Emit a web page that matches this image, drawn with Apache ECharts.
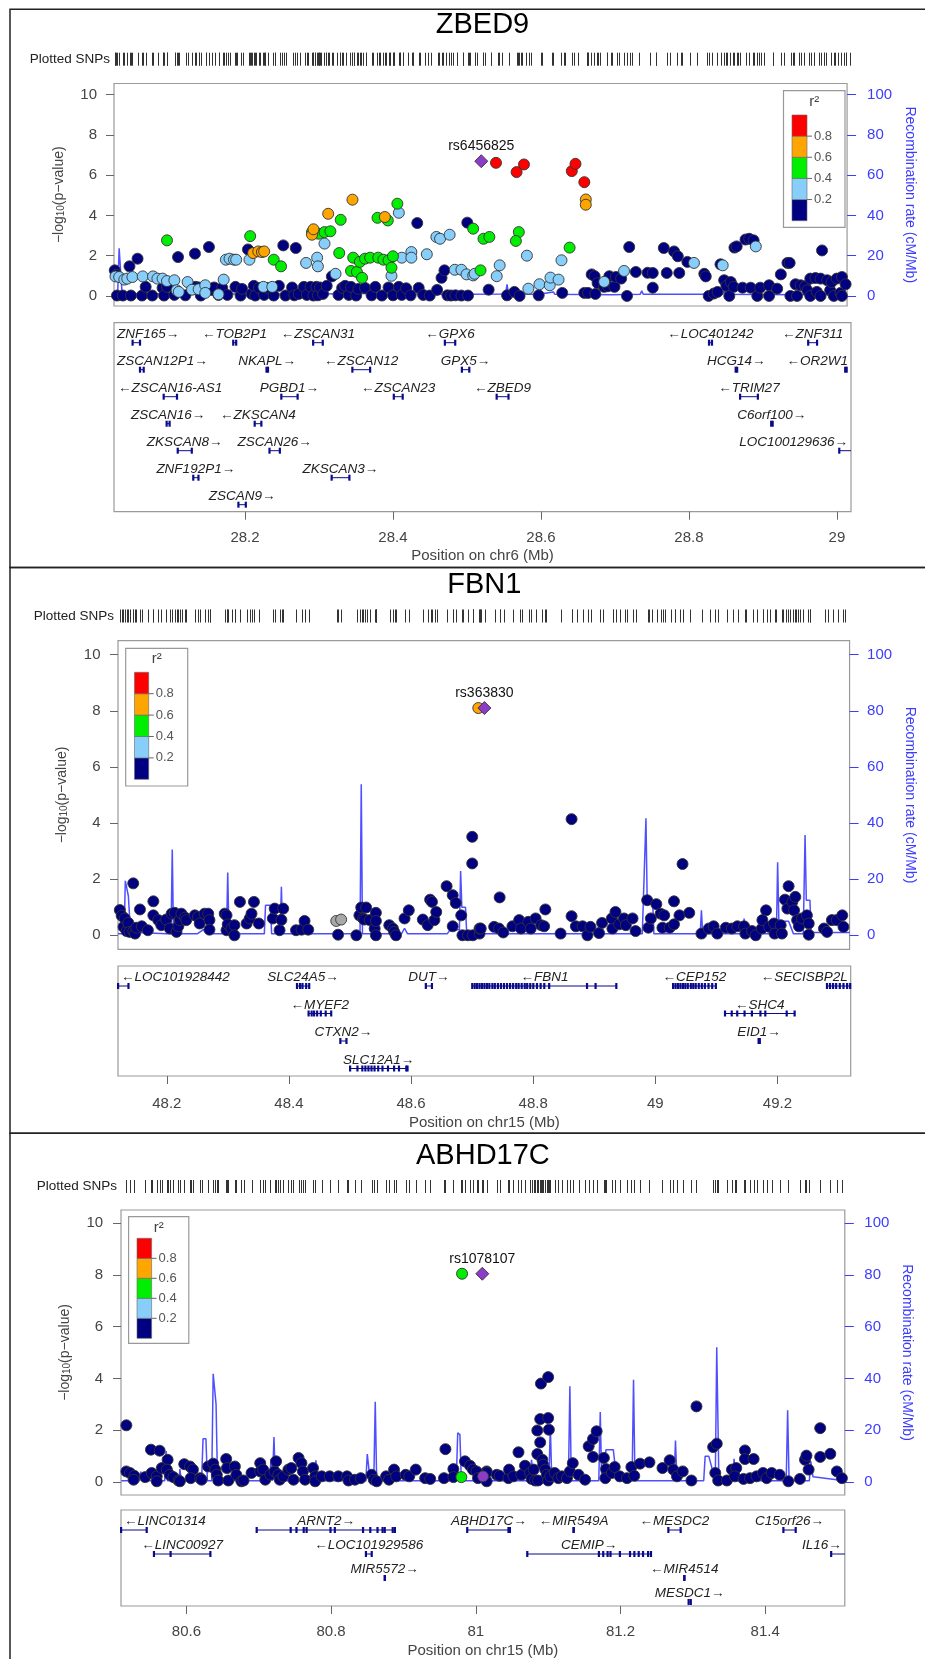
<!DOCTYPE html>
<html><head><meta charset="utf-8">
<script src="https://cdn.jsdelivr.net/npm/echarts@6/dist/echarts.min.js"></script>
<style>html,body{margin:0;padding:0;background:#fff}#c{width:925px;height:1659px}</style>
</head><body><div id="c"></div>
<script>
// ================= DATA =================
const yTicks = [0, 2, 4, 6, 8, 10];
const recombTicks = [0, 20, 40, 60, 80, 100];
const ldBreaks = ['0.2', '0.4', '0.6', '0.8'];
const panelTitles = ['ZBED9', 'FBN1', 'ABHD17C'];
const chromLabels = ['Position on chr6 (Mb)', 'Position on chr15 (Mb)', 'Position on chr15 (Mb)'];
const leadSnps = ['rs6456825', 'rs363830', 'rs1078107'];
const xRanges = [[28.023, 29.019], [48.12, 49.32], [80.5096, 81.51]];
const zbed9Ticks = [28.2, 28.4, 28.6, 28.8, 29];
const fbn1Ticks = [48.2, 48.4, 48.6, 48.8, 49, 49.2];
const abhdTicks = [80.6, 80.8, 81, 81.2, 81.4];

// SNPs: [position Mb, -log10 p, LD class] ; class 0..4 = r2 bins (low..high), 5 = lead SNP, 6 = no LD, 7 = lead proxy
const zbed9Snps = [
[28.024,1.27,0],[28.026,1.05,0],[28.027,0.02,0],[28.035,0.02,0],[28.044,1.47,0],[28.046,0.02,0],[28.055,1.85,0],[28.061,0.02,0],[28.066,0.45,0],[28.075,0.02,0],[28.089,0.4,0],[28.091,0.02,0],[28.095,0.45,0],[28.105,0.05,0],[28.110,1.93,0],[28.120,0.03,0],[28.133,2.1,0],[28.134,0.45,0],[28.138,0.42,0],[28.141,0.02,0],[28.152,2.43,0],[28.156,0.3,0],[28.159,0.42,0],[28.165,0.05,0],[28.170,0.4,0],[28.177,0.05,0],[28.188,0.45,0],[28.195,0.02,0],[28.197,0.35,0],[28.205,2.31,0],[28.210,0.1,0],[28.213,0.5,0],[28.215,0.02,0],[28.220,0.4,0],[28.227,0.05,0],[28.231,0.4,0],[28.240,0.02,0],[28.247,0.5,0],[28.253,2.51,0],[28.256,0.02,0],[28.265,0.42,0],[28.268,0.03,0],[28.270,2.38,0],[28.274,0.1,0],[28.281,0.45,0],[28.285,0.05,0],[28.290,0.45,0],[28.294,0.02,0],[28.298,0.45,0],[28.300,0.03,0],[28.303,0.42,0],[28.307,0.1,0],[28.312,0.5,0],[28.319,0.97,0],[28.328,0.05,0],[28.333,0.4,0],[28.337,0.5,0],[28.342,0.05,0],[28.345,0.45,0],[28.352,0.02,0],[28.355,0.35,0],[28.364,0.4,0],[28.373,0.03,0],[28.378,0.45,0],[28.387,0.02,0],[28.396,0.42,0],[28.402,0.03,0],[28.410,0.45,0],[28.414,0.05,0],[28.420,0.38,0],[28.426,0.03,0],[28.435,3.62,0],[28.437,0.4,0],[28.443,0.05,0],[28.452,0.02,0],[28.462,0.3,0],[28.468,0.9,0],[28.472,1.27,0],[28.476,0.03,0],[28.481,0.02,0],[28.487,0.03,0],[28.495,0.02,0],[28.503,3.64,0],[28.504,0.02,0],
[28.532,0.31,0],[28.557,0.03,0],[28.567,0.2,0],[28.574,0.0,0],[28.600,0.03,0],[28.632,0.15,0],[28.662,0.15,0],[28.667,0.15,0],[28.672,1.07,0],[28.676,0.98,0],[28.677,0.1,0],[28.680,0.64,0],[28.689,0.45,0],[28.694,0.48,0],[28.696,0.98,0],[28.703,0.45,0],[28.705,0.94,0],[28.712,0.86,0],[28.720,0.0,0],[28.723,2.43,0],[28.732,1.19,0],[28.748,1.15,0],[28.755,1.14,0],[28.755,0.41,0],[28.770,2.38,0],[28.774,1.14,0],[28.784,2.21,0],[28.789,1.97,0],[28.791,1.14,0],[28.802,1.69,0],[28.825,1.1,0],[28.827,0.97,0],[28.831,0.0,0],[28.838,0.12,0],[28.843,0.2,0],[28.847,1.57,0],[28.852,0.78,0],[28.855,0.5,0],[28.859,0.0,0],[28.861,0.69,0],[28.865,0.45,0],[28.866,2.4,0],[28.869,2.46,0],[28.877,0.41,0],[28.881,2.8,0],[28.886,2.84,0],[28.888,0.41,0],[28.892,2.76,0],[28.897,0.0,0],[28.901,0.41,0],[28.913,0.53,0],[28.913,0.0,0],[28.924,0.36,0],[28.929,1.07,0],[28.938,1.64,0],[28.941,1.64,0],[28.942,0.0,0],[28.949,0.58,0],[28.951,0.0,0],[28.956,0.53,0],[28.962,0.48,0],[28.965,0.28,0],[28.969,0.86,0],[28.969,0.0,0],[28.976,0.89,0],[28.978,0.2,0],[28.983,0.86,0],[28.983,0.0,0],[28.985,2.26,0],[28.992,0.78,0],[28.996,0.28,0],[28.998,0.69,0],[29.001,0.0,0],[29.005,0.86,0],[29.010,0.15,0],[29.012,0.94,0],[29.012,0.0,0],[29.017,0.58,0],
[28.025,0.97,1],[28.030,0.94,1],[28.037,0.81,1],[28.041,0.86,1],[28.048,0.94,1],[28.062,0.97,1],[28.076,0.97,1],[28.082,0.86,1],[28.089,0.86,1],[28.095,0.74,1],[28.105,0.78,1],[28.108,0.28,1],[28.111,0.2,1],[28.123,0.69,1],[28.129,0.31,1],[28.138,0.33,1],[28.147,0.53,1],[28.147,0.15,1],[28.165,0.08,1],[28.172,0.81,1],[28.175,1.8,1],[28.180,1.85,1],[28.186,1.8,1],[28.189,1.8,1],[28.207,1.8,1],[28.226,0.45,1],[28.238,0.45,1],[28.284,1.64,1],[28.299,1.9,1],[28.300,1.47,1],[28.309,2.6,1],[28.324,1.1,1],[28.400,1.0,1],[28.410,4.13,1],[28.414,1.9,1],[28.427,2.18,1],[28.427,1.9,1],[28.448,2.07,1],[28.461,2.93,1],[28.466,2.84,1],[28.479,3.04,1],[28.486,1.3,1],[28.495,1.3,1],[28.502,1.07,1],[28.511,1.02,1],[28.513,1.1,1],[28.547,1.52,1],[28.543,0.98,1],[28.584,2.0,1],[28.586,0.36,1],[28.601,0.58,1],[28.615,0.53,1],[28.616,0.91,1],[28.627,0.81,1],[28.631,1.77,1],[28.689,0.7,1],[28.716,1.24,1],[28.811,1.64,1],[28.850,1.52,1],[28.895,2.46,1],
[28.095,2.76,2],[28.208,2.97,2],[28.240,1.8,2],[28.250,1.47,2],[28.292,3.17,2],[28.301,3.09,2],[28.309,3.17,2],[28.317,3.21,2],[28.331,3.78,2],[28.329,2.13,2],[28.348,1.9,2],[28.345,1.24,2],[28.353,1.19,2],[28.360,0.9,2],[28.357,1.69,2],[28.364,1.85,2],[28.371,1.9,2],[28.382,1.9,2],[28.389,1.8,2],[28.396,1.77,2],[28.402,1.97,2],[28.381,3.88,2],[28.395,3.75,2],[28.408,4.58,2],[28.400,1.4,2],[28.511,3.34,2],[28.525,2.84,2],[28.533,2.93,2],[28.573,3.17,2],[28.569,2.73,2],[28.642,2.4,2],[28.521,1.27,2],
[28.212,2.13,3],[28.219,2.21,3],[28.224,2.18,3],[28.227,2.21,3],[28.292,3.04,3],[28.294,3.31,3],[28.314,4.08,3],[28.347,4.78,3],[28.391,3.92,3],[28.664,4.79,3],[28.664,4.53,3],
[28.542,6.61,4],[28.570,6.15,4],[28.580,6.53,4],[28.645,6.2,4],[28.650,6.56,4],[28.662,5.65,4],
[28.522,6.69,5]
];

const fbn1Snps = [
[48.123,0.9,0],[48.126,0.7,0],[48.129,0.3,0],[48.131,0.6,0],[48.134,0.15,0],[48.137,0.44,0],[48.139,0.12,0],[48.145,1.85,0],[48.145,0.15,0],[48.148,0.06,0],[48.150,0.27,0],[48.156,0.92,0],[48.159,0.32,0],[48.169,0.18,0],[48.178,1.21,0],[48.178,0.71,0],[48.186,0.54,0],[48.191,0.36,0],[48.199,0.56,0],[48.205,0.24,0],[48.208,0.77,0],[48.213,0.8,0],[48.216,0.12,0],[48.219,0.32,0],[48.221,0.54,0],[48.224,0.77,0],[48.230,0.63,0],[48.232,0.54,0],[48.246,0.71,0],[48.251,0.65,0],[48.254,0.42,0],[48.262,0.77,0],[48.268,0.77,0],[48.270,0.54,0],[48.270,0.2,0],[48.295,0.77,0],[48.298,0.71,0],[48.298,0.18,0],[48.300,0.39,0],[48.306,0.24,0],[48.311,0.36,0],[48.311,0.0,0],[48.320,1.19,0],[48.331,0.42,0],[48.336,0.6,0],[48.339,0.77,0],[48.343,1.19,0],[48.351,0.42,0],[48.374,0.6,0],[48.377,0.95,0],[48.385,0.18,0],[48.388,0.55,0],[48.391,0.95,0],[48.412,0.18,0],[48.421,0.2,0],[48.426,0.51,0],[48.432,0.2,0],[48.478,0.51,6],[48.486,0.56,6],[48.481,0.02,0],[48.511,0.0,0],[48.516,0.71,0],[48.519,0.99,0],[48.522,0.6,0],[48.524,0.56,0],[48.527,0.99,0],[48.533,0.54,0],[48.541,0.24,0],[48.543,0.8,0],[48.543,0.51,0],[48.543,0.0,0],[48.565,0.36,0],[48.571,0.24,0],[48.573,0.12,0],[48.576,0.0,0],[48.590,0.6,0],[48.597,0.89,0],[48.620,0.56,0],[48.628,0.36,0],[48.632,1.27,0],[48.635,1.19,0],[48.639,0.54,0],[48.642,0.83,0],[48.659,1.75,0],[48.669,1.43,0],[48.669,0.32,0],[48.674,1.15,0],[48.683,0.71,0],[48.685,0.0,0],[48.694,0.0,0],[48.701,3.51,0],[48.701,2.56,0],[48.702,0.0,0],[48.713,0.06,0],[48.713,0.24,0],
[48.715,0.24,0],[48.737,0.3,0],[48.745,0.24,0],[48.746,1.35,0],[48.752,0.1,0],[48.767,0.32,0],[48.778,0.54,0],[48.781,0.24,0],[48.793,0.48,0],[48.797,0.24,0],[48.805,0.6,0],[48.814,0.36,0],[48.819,0.32,0],[48.821,0.92,0],[48.846,0.06,0],[48.864,4.14,0],[48.864,0.68,0],[48.871,0.32,0],[48.882,0.32,0],[48.890,0.0,0],[48.895,0.3,0],[48.909,0.08,0],[48.914,0.44,0],[48.931,0.24,0],[48.930,0.6,0],[48.936,0.83,0],[48.942,0.39,0],[48.950,0.6,0],[48.953,0.36,0],[48.964,0.6,0],[48.969,0.15,0],[48.988,1.25,0],[48.990,0.27,0],[48.994,0.6,0],[49.003,1.11,0],[49.010,0.77,0],[49.013,0.27,0],[49.016,0.71,0],[49.025,0.27,0],[49.032,1.21,0],[49.032,0.39,0],[49.041,0.71,0],[49.046,2.54,0],[49.057,0.8,0],[49.077,0.06,0],[49.089,0.24,0],[49.097,0.32,0],[49.103,0.06,0],[49.117,0.27,0],[49.127,0.24,0],[49.136,0.32,0],[49.147,0.32,0],[49.149,0.06,0],[49.160,0.15,0],[49.166,0.0,0],[49.176,0.24,0],[49.177,0.54,0],[49.183,0.89,0],[49.188,0.3,0],[49.196,0.42,0],[49.197,0.06,0],[49.207,0.36,0],[49.209,0.06,0],[49.214,1.27,0],[49.218,0.95,0],[49.220,1.75,0],[49.226,1.19,0],[49.229,0.89,0],[49.231,1.37,0],[49.234,0.54,0],[49.237,0.32,0],[49.242,0.6,0],[49.250,0.71,0],[49.253,0.42,0],[49.253,0.02,0],[49.278,0.24,0],[49.283,0.12,0],[49.291,0.54,0],[49.299,0.54,0],[49.308,0.71,0],[49.310,0.3,0],
[48.711,8.1,3],[48.721,8.1,5]
];

const abhdSnps = [
[80.517,2.19,0],[80.517,0.41,0],[80.522,0.35,0],[80.528,0.24,0],[80.527,0.09,0],[80.551,1.25,0],[80.563,1.21,0],[80.574,0.86,0],[80.543,0.19,0],[80.552,0.35,0],[80.559,0.22,0],[80.559,0.03,0],[80.566,0.54,0],[80.573,0.48,0],[80.577,0.28,0],[80.582,0.19,0],[80.589,0.06,0],[80.591,0.03,0],[80.597,0.69,0],[80.605,0.6,0],[80.609,0.48,0],[80.606,0.15,0],[80.619,0.15,0],[80.621,0.09,0],[80.630,0.6,0],[80.637,0.71,0],[80.640,0.48,0],[80.642,0.28,0],[80.644,0.06,0],[80.655,0.89,0],[80.656,0.54,0],[80.658,0.06,0],[80.667,0.6,0],[80.669,0.28,0],[80.676,0.03,0],[80.679,0.06,0],[80.690,0.35,0],[80.702,0.73,0],[80.702,0.41,0],[80.706,0.48,0],[80.709,0.09,0],[80.716,0.28,0],[80.722,0.41,0],[80.724,0.8,0],[80.727,0.28,0],[80.729,0.09,0],[80.734,0.22,0],[80.741,0.48,0],[80.745,0.54,0],[80.748,0.09,0],[80.755,0.93,0],[80.759,0.73,0],[80.761,0.41,0],[80.764,0.09,0],[80.775,0.54,0],[80.778,0.22,0],[80.778,0.03,0],[80.787,0.22,0],[80.798,0.22,0],[80.810,0.22,0],[80.822,0.22,0],[80.824,0.06,0],[80.833,0.09,0],[80.841,0.15,0],[80.856,0.28,0],[80.859,0.09,0],[80.863,0.03,0],[80.876,0.22,0],[80.880,0.09,0],[80.887,0.48,0],[80.890,0.22,0],[80.903,0.28,0],[80.908,0.22,0],[80.917,0.48,0],[80.930,0.15,0],[80.937,0.12,0],[80.956,0.15,0],[80.958,1.27,0],[80.969,0.5,0],[80.969,0.19,0],[80.985,0.8,0],[80.992,0.63,0],[80.996,0.48,0],[81.001,0.41,0],[81.003,0.15,0],[81.015,0.41,0],[81.015,0.03,0],
[81.015,0.37,0],[81.029,0.28,0],[81.033,0.24,0],[81.045,0.15,0],[81.046,0.48,0],[81.052,0.22,0],[81.059,1.15,0],[81.063,0.28,0],[81.068,0.63,0],[81.075,0.35,0],[81.077,0.12,0],[81.080,0.48,0],[81.082,0.06,0],[81.085,1.08,0],[81.086,0.06,0],[81.089,1.53,0],[81.085,1.99,0],[81.089,2.43,0],[81.100,2.47,0],[81.090,3.8,0],[81.100,4.05,0],[81.101,2.02,0],[81.092,0.86,0],[81.093,0.67,0],[81.096,0.48,0],[81.098,0.28,0],[81.100,0.06,0],[81.103,0.22,0],[81.109,0.35,0],[81.114,0.15,0],[81.119,0.22,0],[81.126,0.15,0],[81.130,0.41,0],[81.134,0.73,0],[81.142,0.28,0],[81.151,0.09,0],[81.156,1.38,0],[81.162,1.66,0],[81.167,1.96,0],[81.162,0.97,0],[81.177,0.93,0],[81.180,0.5,0],[81.179,0.15,0],[81.188,0.35,0],[81.192,0.58,0],[81.199,0.22,0],[81.209,0.15,0],[81.215,0.58,0],[81.219,0.24,0],[81.227,0.71,0],[81.240,0.76,0],[81.258,0.54,0],[81.268,0.84,0],[81.273,0.48,0],[81.278,0.22,0],[81.286,0.41,0],[81.298,0.06,0],[81.305,2.92,0],[81.328,1.35,0],[81.333,1.48,0],[81.331,0.35,0],[81.335,0.06,0],[81.347,0.06,0],[81.354,0.48,0],[81.360,0.54,0],[81.358,0.22,0],[81.372,1.22,0],[81.372,0.89,0],[81.384,0.89,0],[81.370,0.12,0],[81.379,0.15,0],[81.388,0.22,0],[81.397,0.35,0],[81.402,0.15,0],[81.409,0.35,0],[81.420,0.28,0],[81.432,0.03,0],[81.448,0.12,0],[81.455,0.86,0],[81.460,0.48,0],[81.457,1.02,0],[81.476,2.08,0],[81.476,0.97,0],[81.490,1.09,0],[81.499,0.41,0],[81.506,0.15,0],
[80.980,0.19,2],[81.010,0.22,7],[80.981,8.04,2],[81.009,8.04,5]
];

// Recombination rate: [position Mb, cM/Mb]
const zbed9Recomb = [[28.023,1.5],[28.028,1.5],[28.030,23.7],[28.032,23.7],[28.034,1.2],[28.10,1.0],[28.20,1.0],[28.30,1.0],[28.38,1.2],[28.385,2.0],[28.39,1.0],[28.395,1.8],[28.40,1.0],[28.50,0.8],[28.555,1.0],[28.557,5.8],[28.559,1.0],[28.60,0.8],[28.62,2.0],[28.622,0.8],[28.70,0.6],[28.738,0.8],[28.74,2.5],[28.742,0.8],[28.85,0.8],[28.852,2.8],[28.854,0.8],[28.95,0.6],[29.019,0.6]];
const fbn1Recomb = [[48.12,0.5],[48.13,0.5],[48.132,19.4],[48.135,19.4],[48.137,14],[48.14,3],[48.15,1],[48.20,0.5],[48.207,0.5],[48.209,30.6],[48.211,0.5],[48.25,0.5],[48.26,2],[48.27,0.5],[48.298,0.5],[48.30,22.4],[48.302,0.5],[48.36,0.5],[48.362,10.7],[48.37,10.7],[48.372,0.5],[48.386,0.5],[48.388,17.3],[48.39,0.5],[48.517,0.5],[48.519,53.8],[48.521,0.5],[48.585,0.5],[48.59,2.5],[48.595,0.5],[48.66,0.5],[48.665,2],[48.68,2],[48.682,22.9],[48.684,10],[48.69,10],[48.692,0.5],[48.98,0.5],[48.986,41.7],[48.988,12.5],[48.997,12.5],[48.999,0.5],[49.075,0.5],[49.077,8.9],[49.079,0.5],[49.145,0.5],[49.147,6],[49.149,0.5],[49.20,0.5],[49.202,26],[49.204,5],[49.22,5],[49.228,0.5],[49.244,0.5],[49.247,35.7],[49.249,12.5],[49.255,12.5],[49.257,1],[49.32,1]];
const abhdRecomb = [[80.51,0.5],[80.535,0.5],[80.537,4],[80.539,0.5],[80.57,0.5],[80.572,12],[80.574,0.5],[80.59,0.5],[80.591,5],[80.593,0.5],[80.621,0.5],[80.623,16.7],[80.627,16.7],[80.629,0.5],[80.635,0.5],[80.637,41.8],[80.639,41.8],[80.641,30],[80.643,0.5],[80.715,0.5],[80.717,9],[80.719,0.5],[80.721,17.4],[80.723,0.5],[80.777,0.5],[80.779,8.4],[80.781,0.5],[80.848,0.5],[80.85,10.8],[80.852,10.8],[80.854,0.5],[80.859,0.5],[80.861,31],[80.863,0.5],[80.973,0.5],[80.975,19],[80.978,18.3],[80.98,0.5],[81.075,0.5],[81.077,8.6],[81.08,0.5],[81.101,0.5],[81.103,22],[81.105,0.5],[81.128,0.5],[81.13,37],[81.132,0.5],[81.17,0.5],[81.172,27],[81.174,0.5],[81.18,12.5],[81.19,12.5],[81.195,0.5],[81.216,0.5],[81.218,39.5],[81.22,0.5],[81.274,0.5],[81.276,16],[81.278,0.5],[81.315,0.5],[81.317,10],[81.322,10],[81.331,0.5],[81.333,52],[81.336,0.5],[81.355,0.5],[81.357,9],[81.359,0.5],[81.429,0.5],[81.431,27.7],[81.433,0.5],[81.461,0.5],[81.463,8],[81.466,2],[81.51,0.5]];

// Genes: [name, start, end, row, strand, exons]
const zbed9Genes = [
['ZNF165',28.048,28.058,0,'+'],['TOB2P1',28.184,28.188,0,'-'],['ZSCAN31',28.292,28.305,0,'-'],['GPX6',28.470,28.484,0,'-'],['LOC401242',28.827,28.831,0,'-'],['ZNF311',28.961,28.973,0,'-'],
['ZSCAN12P1',28.058,28.063,1,'+'],['NKAPL',28.229,28.231,1,'+'],['ZSCAN12',28.345,28.369,1,'-'],['GPX5',28.493,28.503,1,'+'],['HCG14',28.863,28.865,1,'+'],['OR2W1',29.011,29.013,1,'-'],
['ZSCAN16-AS1',28.090,28.108,2,'-'],['PGBD1',28.249,28.271,2,'+'],['ZSCAN23',28.401,28.413,2,'-'],['ZBED9',28.540,28.556,2,'-'],['TRIM27',28.869,28.893,2,'-'],
['ZSCAN16',28.094,28.098,3,'+'],['ZKSCAN4',28.213,28.222,3,'-'],['C6orf100',28.911,28.913,3,'+'],
['ZKSCAN8',28.109,28.128,4,'+'],['ZSCAN26',28.233,28.247,4,'+'],['LOC100129636',29.003,29.030,4,'+'],
['ZNF192P1',28.130,28.137,5,'+'],['ZKSCAN3',28.317,28.341,5,'+'],
['ZSCAN9',28.191,28.201,6,'+']
];
const fbn1Genes = [
['LOC101928442',48.120,48.137,0,'-'],
['SLC24A5',48.412,48.434,0,'+',[48.413,48.418,48.422,48.428,48.433]],
['DUT',48.624,48.634,0,'+'],
['FBN1',48.700,48.937,0,'-',[48.700,48.704,48.708,48.712,48.716,48.720,48.724,48.728,48.733,48.737,48.742,48.747,48.752,48.757,48.762,48.767,48.772,48.776,48.781,48.786,48.790,48.795,48.800,48.806,48.812,48.818,48.826,48.888,48.902,48.936]],
['CEP152',49.028,49.100,0,'-',[49.029,49.033,49.037,49.041,49.045,49.049,49.053,49.058,49.062,49.066,49.071,49.076,49.081,49.087,49.093,49.099]],
['SECISBP2L',49.280,49.320,0,'-',[49.281,49.286,49.291,49.296,49.302,49.308,49.314,49.319]],
['MYEF2',48.431,48.470,1,'-',[48.432,48.437,48.441,48.446,48.452,48.460,48.469]],
['SHC4',49.113,49.229,1,'-',[49.114,49.125,49.134,49.146,49.158,49.172,49.180,49.215,49.228]],
['CTXN2',48.484,48.494,2,'+'],
['EID1',49.169,49.171,2,'+'],
['SLC12A1',48.499,48.595,3,'+',[48.500,48.512,48.520,48.525,48.530,48.535,48.540,48.546,48.553,48.562,48.572,48.580,48.592,48.594]]
];
const abhdGenes = [
['LINC01314',80.509,80.545,0,'-'],
['ARNT2',80.697,80.889,0,'+',[80.697,80.744,80.752,80.762,80.766,80.799,80.805,80.844,80.854,80.864,80.871,80.874,80.885,80.888]],
['ABHD17C',80.988,81.048,0,'+',[80.988,81.045,81.047]],
['MIR549A',81.135,81.1352,0,'-'],
['MESDC2',81.266,81.283,0,'-'],
['C15orf26',81.425,81.442,0,'+'],
['LINC00927',80.554,80.634,1,'-',[80.555,80.578,80.633]],
['LOC101929586',80.848,80.856,1,'-'],
['CEMIP',81.070,81.243,1,'+',[81.071,81.170,81.176,81.182,81.186,81.199,81.213,81.219,81.225,81.231,81.238,81.242]],
['IL16',81.491,81.530,1,'+'],
['MIR5572',80.874,80.8742,2,'+'],
['MIR4514',81.288,81.2882,2,'-'],
['MESDC1',81.294,81.297,3,'+']
];

// ================= STYLE / LAYOUT =================
const FONT = "'Liberation Sans', Arial, Helvetica, sans-serif";
const ldColors = ['#000080', '#87CEFA', '#00EE00', '#FFA500', '#FF0000', '#8B3DC8', '#A8A8A8', '#8B3DC8'];
const BLUE = '#3c3cff';
const layout = [
 {plot:{l:114,r:851,t:83.5,b:306}, ymax:10.55, rugTop:52.7, gbox:{t:322.7,b:511.7,rows:7}, titleY:25,
  xLab:{margin:19,gap:37}, yLab:{margin:17,gap:48}, yRight:{margin:20,gap:50},
  leg:{x:783.5,y:90.7,w:61.5,h:136.6,bx:792,by:115,bw:15,bh:105.7}},
 {plot:{l:118,r:850.7,t:640.7,b:949.3}, ymax:10.5, rugTop:609.5, gbox:{t:966,b:1076,rows:4}, titleY:585,
  xLab:{margin:20,gap:39}, yLab:{margin:17.5,gap:49}, yRight:{margin:17.5,gap:48},
  leg:{x:125.7,y:648.3,w:62,h:137.7,bx:134.5,by:672.3,bw:14.2,bh:107}},
 {plot:{l:121,r:844.8,t:1210,b:1495}, ymax:10.5, rugTop:1180, gbox:{t:1510,b:1614,rows:4}, titleY:1156,
  xLab:{margin:18.5,gap:37}, yLab:{margin:17.8,gap:49}, yRight:{margin:19.5,gap:46},
  leg:{x:128.6,y:1216.7,w:60.2,h:126.6,bx:137,by:1238.3,bw:14.6,bh:100}}
];
const panelSnps = [zbed9Snps, fbn1Snps, abhdSnps];
const panelRecomb = [zbed9Recomb, fbn1Recomb, abhdRecomb];
const panelGenes = [zbed9Genes, fbn1Genes, abhdGenes];
const panelTicks = [zbed9Ticks, fbn1Ticks, abhdTicks];

const mctx = document.createElement('canvas').getContext('2d');
const GFONT = "italic 13.5px 'Liberation Sans', Arial, sans-serif";
function textW(s){ mctx.font = GFONT; return mctx.measureText(s).width; }

const grid = [], xAxis = [], yAxis = [], series = [], graphic = [];

// panel frames
[[9.3,567.5],[567.5,1133.3],[1133.3,1700]].forEach(([a,b]) => {
  graphic.push({type:'rect', shape:{x:10, y:a, width:940, height:b-a}, style:{fill:'none', stroke:'#222', lineWidth:1.5}, z:50});
});

layout.forEach((L, p) => {
  const [xmin, xmax] = xRanges[p];
  const P = L.plot, G = L.gbox;
  const g0 = grid.length;
  grid.push({left:P.l, top:L.rugTop, width:P.r-P.l, height:13, show:false});
  grid.push({left:P.l, top:P.t, width:P.r-P.l, height:P.b-P.t, show:true, borderColor:'#9a9a9a', borderWidth:1.2, backgroundColor:'transparent'});
  grid.push({left:P.l, top:G.t, width:P.r-P.l, height:G.b-G.t, show:true, borderColor:'#9a9a9a', borderWidth:1.2, backgroundColor:'transparent'});
  const x0 = xAxis.length, y0 = yAxis.length;
  const hidX = (gi) => ({gridIndex:gi, type:'value', min:xmin, max:xmax, show:false});
  xAxis.push(hidX(g0), hidX(g0+1));
  xAxis.push({gridIndex:g0+2, type:'value', min:xmin, max:xmax, position:'bottom', axisLine:{show:false, onZero:false}, splitLine:{show:false},
    axisTick:{show:true, length:8, customValues:panelTicks[p], lineStyle:{color:'#666'}},
    axisLabel:{show:true, customValues:panelTicks[p], margin:L.xLab.margin, fontSize:15, color:'#444', fontFamily:FONT},
    name:chromLabels[p], nameLocation:'middle', nameGap:L.xLab.gap, nameTextStyle:{fontSize:15, color:'#444', fontFamily:FONT}});
  yAxis.push({gridIndex:g0, type:'value', min:0, max:1, show:false});
  yAxis.push({gridIndex:g0+1, type:'value', min:-0.5, max:L.ymax, position:'left', axisLine:{show:false, onZero:false}, splitLine:{show:false},
    axisTick:{show:true, length:8, customValues:yTicks, lineStyle:{color:'#666'}},
    axisLabel:{show:true, customValues:yTicks, margin:L.yLab.margin, fontSize:15, color:'#444', fontFamily:FONT},
    name:'\u2212log{s|10}(p\u2212value)', nameLocation:'middle', nameGap:L.yLab.gap,
    nameTextStyle:{fontSize:14, color:'#444', fontFamily:FONT, rich:{s:{fontSize:10, color:'#444', fontFamily:FONT, verticalAlign:'bottom', lineHeight:14}}}});
  yAxis.push({gridIndex:g0+1, type:'value', min:-5, max:L.ymax*10, position:'right', axisLine:{show:false, onZero:false}, splitLine:{show:false},
    axisTick:{show:true, length:9, customValues:recombTicks, lineStyle:{color:BLUE}},
    axisLabel:{show:true, customValues:recombTicks, margin:L.yRight.margin, fontSize:15, color:BLUE, fontFamily:FONT},
    name:'Recombination rate (cM/Mb)', nameLocation:'middle', nameRotate:-90, nameGap:L.yRight.gap,
    nameTextStyle:{fontSize:14, color:BLUE, fontFamily:FONT}});
  yAxis.push({gridIndex:g0+2, type:'value', min:0, max:G.rows, inverse:true, show:false});

  const snps = panelSnps[p];
  // rug of plotted SNPs
  series.push({type:'custom', xAxisIndex:x0, yAxisIndex:y0, silent:true, data:snps.map(s => [s[0]]),
    renderItem:(params, api) => {
      const cs = params.coordSys;
      const x = Math.round(api.coord([api.value(0), 0])[0]) + 0.5;
      return {type:'line', shape:{x1:x, y1:cs.y, x2:x, y2:cs.y+cs.height}, style:{stroke:'#333', lineWidth:1}};
    }});
  // recombination rate
  series.push({type:'line', xAxisIndex:x0+1, yAxisIndex:y0+2, data:panelRecomb[p], showSymbol:false, symbol:'none',
    lineStyle:{color:BLUE, width:1.5, opacity:0.9}, z:1, silent:true, animation:false});
  // SNP points by LD class
  [0,1,6,2,3,4,7,5].forEach(c => {
    const data = snps.filter(s => s[2] === c).map(s => [s[0], s[1]]);
    if (!data.length) return;
    const isLead = c === 5;
    series.push({type:'scatter', xAxisIndex:x0+1, yAxisIndex:y0+1, data,
      symbol: isLead ? 'diamond' : 'circle', symbolSize: isLead ? 13 : 11,
      itemStyle:{color:ldColors[c], borderColor:'#333', borderWidth:0.9, opacity:1},
      label: isLead ? {show:true, position:'top', distance:1, formatter:leadSnps[p], fontSize:14, color:'#111', fontFamily:FONT} : {show:false},
      z: 3 + (c === 6 ? 0 : c), silent:true, animation:false});
  });
  // genes
  const genes = panelGenes[p];
  series.push({type:'custom', xAxisIndex:x0+2, yAxisIndex:y0+3, silent:true, clip:false,
    data: genes.map((g, i) => [g[1], g[2], g[3], i]),
    renderItem:(params, api) => {
      const g = genes[api.value(3)];
      const cs = params.coordSys;
      const rowH = cs.height / G.rows;
      const top = cs.y + g[3] * rowH;
      const yb = top + 20, yl = top + 11.3;
      const lo = cs.x, hi = cs.x + cs.width;
      const cl = v => Math.max(lo, Math.min(hi, v));
      const xs = api.coord([g[1], 0])[0], xe = api.coord([g[2], 0])[0];
      const x1 = cl(xs), x2 = cl(xe);
      const col = '#0a0a8c';
      const kids = [];
      kids.push({type:'line', shape:{x1:x1, y1:yb, x2:Math.max(x2, x1+1), y2:yb}, style:{stroke:col, lineWidth:1}});
      const blocks = g[5] ? g[5] : [g[1], g[2]];
      blocks.forEach(b => {
        const bx = api.coord([b, 0])[0];
        if (bx < lo - 1 || bx > hi + 1) return;
        kids.push({type:'rect', shape:{x:cl(bx) - 1, y:yb - 3, width:2.2, height:6}, style:{fill:col}});
      });
      const label = g[4] === '+' ? g[0] + '\u2192' : '\u2190' + g[0];
      const w = textW(label);
      let cx = (xs + xe) / 2;
      cx = Math.max(lo + w/2 + 3, Math.min(hi - w/2 - 3, cx));
      kids.push({type:'text', style:{text:label, x:cx, y:yl, align:'center', verticalAlign:'middle', font:GFONT, fill:'#222'}});
      return {type:'group', children:kids};
    }});

  // title and "Plotted SNPs"
  graphic.push({type:'text', x:(P.l+P.r)/2, y:L.titleY, style:{text:panelTitles[p], font:"29px 'Liberation Sans', Arial, sans-serif", fill:'#000', align:'center', verticalAlign:'middle'}, z:60});
  graphic.push({type:'text', x:P.l-4, y:L.rugTop+6.5, style:{text:'Plotted SNPs', font:"13.5px 'Liberation Sans', Arial, sans-serif", fill:'#222', align:'right', verticalAlign:'middle'}, z:60});

  // r2 legend
  const Lg = L.leg;
  graphic.push({type:'rect', shape:{x:Lg.x, y:Lg.y, width:Lg.w, height:Lg.h}, style:{fill:'#fff', stroke:'#999', lineWidth:1.2}, z:60});
  graphic.push({type:'text', x:Lg.x + Lg.w/2, y:Lg.y + 11, style:{text:'r\u00b2', font:"15px 'Liberation Sans', Arial, sans-serif", fill:'#444', align:'center', verticalAlign:'middle'}, z:61});
  const segH = Lg.bh / 5;
  for (let k = 0; k < 5; k++) {
    graphic.push({type:'rect', shape:{x:Lg.bx, y:Lg.by + (4-k)*segH, width:Lg.bw, height:segH}, style:{fill:ldColors[k], stroke:'#666', lineWidth:0.6}, z:61});
  }
  ldBreaks.forEach((t, k) => {
    const yy = Lg.by + (4-k)*segH;
    graphic.push({type:'line', shape:{x1:Lg.bx+Lg.bw, y1:yy, x2:Lg.bx+Lg.bw+5, y2:yy}, style:{stroke:'#666', lineWidth:1}, z:61});
    graphic.push({type:'text', x:Lg.bx+Lg.bw+7, y:yy, style:{text:t, font:"13px 'Liberation Sans', Arial, sans-serif", fill:'#555', align:'left', verticalAlign:'middle'}, z:61});
  });
});

const chart = echarts.init(document.getElementById('c'), null, {renderer:'canvas', width:925, height:1659});
chart.setOption({animation:false, backgroundColor:'#fff', grid, xAxis, yAxis, series, graphic});
</script>
</body></html>
